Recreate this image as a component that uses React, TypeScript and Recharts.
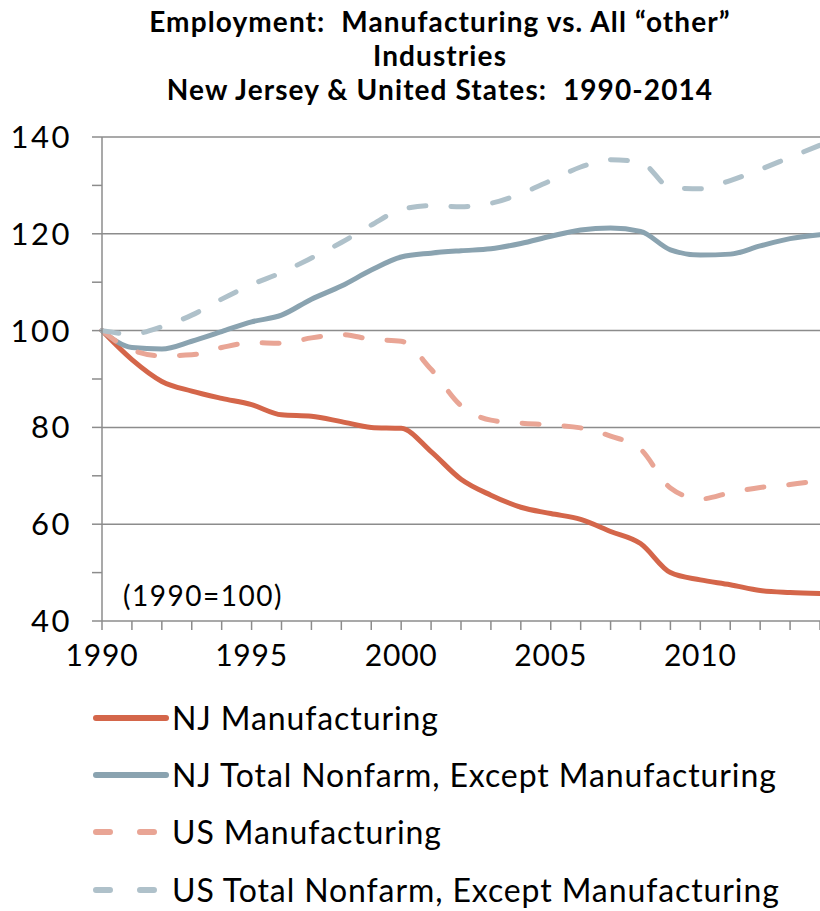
import { Line, LineChart, ReferenceLine, XAxis, YAxis } from "recharts"

const years = [
  1990, 1991, 1992, 1993, 1994, 1995, 1996, 1997, 1998, 1999, 2000, 2001, 2002,
  2003, 2004, 2005, 2006, 2007, 2008, 2009, 2010, 2011, 2012, 2013, 2014,
]
const njManufacturing = [
  100, 94, 89.5, 87.5, 86, 84.7, 82.6, 82.3, 81.2, 80, 79.8, 75, 69.3, 66, 63.5,
  62.2, 61, 58.5, 56, 50, 48.5, 47.5, 46.3, 45.9, 45.7,
]
const njNonfarm = [
  100, 96.5, 96.2, 97.8, 99.8, 101.8, 103.2, 106.5, 109.2, 112.5, 115.2, 116,
  116.5, 116.9, 118, 119.5, 120.8, 121.2, 120.5, 116.7, 115.6, 115.8, 117.5, 119,
  119.8,
]
const usManufacturing = [
  100, 96, 94.8, 95, 96.5, 97.5, 97.4, 98.5, 99.2, 98.2, 97.8, 92, 84.5, 81.5,
  80.9, 80.5, 79.9, 78.2, 75.5, 67.5, 65.2, 66.5, 67.6, 68.2, 69,
]
const usNonfarm = [
  100, 99.3, 100.8, 103.2, 106.5, 109.5, 112, 115, 118.2, 121.8, 125, 125.8,
  125.6, 126.3, 128.3, 131, 133.8, 135.3, 134.8, 129.6, 129.3, 131, 133.3, 135.8,
  138.3,
]
const yTicks = [40, 50, 60, 70, 80, 90, 100, 110, 120, 130, 140]
const gridValues = [60, 80, 100, 120, 140]

const series = [
  { key: "njMfg", name: "NJ Manufacturing", color: "#d4664a", dashed: false },
  { key: "njNon", name: "NJ Total Nonfarm, Except Manufacturing", color: "#8aa3b0", dashed: false },
  { key: "usMfg", name: "US Manufacturing", color: "#e9a595", dashed: true },
  { key: "usNon", name: "US Total Nonfarm, Except Manufacturing", color: "#afc1ca", dashed: true },
]

const data = years.map((year, i) => ({
  year,
  njMfg: njManufacturing[i],
  njNon: njNonfarm[i],
  usMfg: usManufacturing[i],
  usNon: usNonfarm[i],
}))

const font = "Lato, 'Open Sans', sans-serif"
const axisGrey = "#8c8c8c"

export default function App() {
  return (
    <div
      style={{
        position: "absolute",
        left: 0,
        top: 0,
        width: 820,
        height: 911,
        background: "#fff",
        fontFamily: font,
        overflow: "hidden",
      }}
    >
      <div
        style={{
          position: "absolute",
          left: 40,
          width: 800,
          top: 4,
          textAlign: "center",
          fontWeight: 700,
          fontSize: 28,
          letterSpacing: 1.1,
          lineHeight: "34px",
          color: "#000",
        }}
      >
        Employment:&nbsp; Manufacturing vs. All “other”
        <br />
        Industries
        <br />
        New Jersey &amp; United States:&nbsp; 1990-2014
      </div>

      <div style={{ position: "absolute", left: 0, top: 0 }}>
        <LineChart
          width={820}
          height={680}
          data={data}
          margin={{ top: 137, right: 0, bottom: 19, left: 0 }}
        >
          {gridValues.map((v) => (
            <ReferenceLine key={v} y={v} stroke={axisGrey} strokeWidth={1.5} />
          ))}
          <XAxis
            dataKey="year"
            type="number"
            domain={[1990, 2014]}
            ticks={years}
            interval={0}
            height={40}
            stroke={axisGrey}
            strokeWidth={1.5}
            tickSize={9}
            tickMargin={15}
            tick={{ fill: "#000", fontSize: 30, fontFamily: font, letterSpacing: 0.8 }}
            tickFormatter={(v: number) => (v % 5 === 0 ? String(v) : "")}
          />
          <YAxis
            type="number"
            domain={[40, 140]}
            ticks={yTicks}
            interval={0}
            width={102}
            stroke={axisGrey}
            strokeWidth={1.5}
            tickSize={10}
            tickMargin={20}
            tick={{ fill: "#000", fontSize: 31, fontFamily: font, letterSpacing: 2.5 }}
            tickFormatter={(v: number) => (v % 20 === 0 ? String(v) : "")}
          />
          {series.map((s) => (
            <Line
              key={s.key}
              type="monotone"
              dataKey={s.key}
              name={s.name}
              stroke={s.color}
              strokeWidth={5}
              strokeDasharray={s.dashed ? "17 25" : undefined}
              strokeLinecap="round"
              dot={false}
              activeDot={false}
              isAnimationActive={false}
            />
          ))}
        </LineChart>
      </div>

      <div
        style={{
          position: "absolute",
          left: 123,
          top: 577,
          fontSize: 28,
          letterSpacing: 1.5,
          color: "#000",
          lineHeight: "36px",
        }}
      >
        (1990=100)
      </div>

      {/* Legend */}
      <div style={{ position: "absolute", left: 92, top: 689 }}>
        {series.map((s) => (
          <div
            key={s.key}
            style={{
              display: "flex",
              alignItems: "center",
              height: 57.3,
              fontSize: 32,
              letterSpacing: 0.9,
              color: "#000",
            }}
          >
            <svg width={78} height={12} style={{ marginRight: 2 }}>
              <line
                x1={4}
                y1={6}
                x2={74}
                y2={6}
                stroke={s.color}
                strokeWidth={6}
                strokeLinecap="round"
                strokeDasharray={s.dashed ? "14 30" : undefined}
              />
            </svg>
            <span style={{ lineHeight: "32px" }}>{s.name}</span>
          </div>
        ))}
      </div>
    </div>
  )
}
